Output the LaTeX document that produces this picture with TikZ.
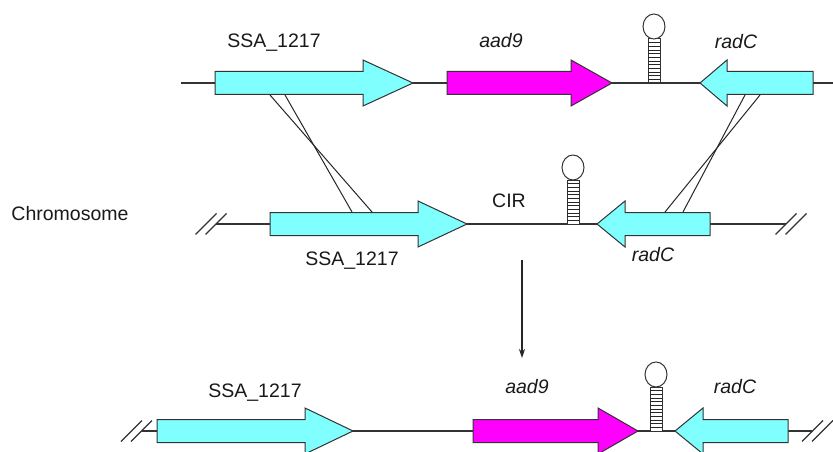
\documentclass[tikz,border=0pt]{standalone}
\usepackage{fontspec}
\setmainfont{Liberation Sans}
\usetikzlibrary{arrows.meta,calc}
\definecolor{GeneC}{RGB}{128,255,255}
\definecolor{AadC}{RGB}{255,0,255}
\tikzset{
  dna/.style={line width=1.1pt,black!80},
  genebody/.style={draw=black!80,line width=1pt,line join=miter},
  lbl/.style={font=\fontsize{19.5}{22}\selectfont,text=black!90,anchor=base,inner sep=0pt},
  gname/.style={lbl,font=\fontsize{19.5}{22}\selectfont\itshape},
  xover/.style={line width=1pt,black!85},
  brkline/.style={line width=1.1pt,black!80},
}
% gene: tail x, head base x, tip x, y, fill
\newcommand{\genearrow}[5]{%
  \draw[genebody,fill=#5] (#1,#4-11.5) -- (#2,#4-11.5) -- (#2,#4-23) -- (#3,#4)
    -- (#2,#4+23) -- (#2,#4+11.5) -- (#1,#4+11.5) -- cycle;}
% terminator hairpin on the line at x, y
\newcommand{\hairpin}[2]{%
  \draw[genebody,fill=white] (#1-6,#2) rectangle (#1+6,#2-44);
  \foreach \k in {1,...,11}{\draw[line width=0.8pt,black!85] (#1-6,#2-\k*3.67) -- (#1+6,#2-\k*3.67);}
  \draw[genebody,fill=white] (#1,#2-56.5) ellipse [x radius=11pt,y radius=12.5pt];}
% break mark //
\newcommand{\breakmark}[2]{%
  \draw[brkline] (#1-15.5,#2+10.5) -- (#1+5.5,#2-10.5);
  \draw[brkline] (#1-5.5,#2+10.5) -- (#1+15.5,#2-10.5);}

\begin{document}
\begin{tikzpicture}[x=1pt,y=-1pt]
\useasboundingbox (0,0) rectangle (833,452);

% donor fragment
\coordinate (t0) at (181,83);
\coordinate (t1) at (833,83);
\draw[dna] (t0) -- (t1);
\genearrow{215}{363}{413}{83}{GeneC}
\genearrow{447}{571}{612}{83}{AadC}
\genearrow{813}{727}{700}{83}{GeneC}
\hairpin{654}{83}
\node[lbl] (tssa) at (274,48) {SSA\_1217};
\node[gname] (taad) at (501,48) {aad9};
\node[gname] (trad) at (736,49) {radC};

% chromosome
\coordinate (c0) at (216,224);
\coordinate (c1) at (786,224);
\draw[dna] (c0) -- (c1);
\breakmark{211}{224}
\breakmark{791}{224}
\genearrow{270}{418}{467}{224}{GeneC}
\genearrow{710}{625}{597}{224}{GeneC}
\hairpin{573}{224}
\node[lbl] (chrom) at (70,220) {Chromosome};
\node[lbl] (cir) at (509,207) {CIR};
\node[lbl] (cssa) at (352,265) {SSA\_1217};
\node[gname] (crad) at (653,261) {radC};

% crossovers
\coordinate (xa1) at (270,95);  \coordinate (xa2) at (372,212);
\coordinate (xb1) at (285,95);  \coordinate (xb2) at (352,212);
\coordinate (xc1) at (745,95);  \coordinate (xc2) at (683,212);
\coordinate (xd1) at (760,95);  \coordinate (xd2) at (665,212);
\draw[xover] (xa1) -- (xa2);
\draw[xover] (xb1) -- (xb2);
\draw[xover] (xc1) -- (xc2);
\draw[xover] (xd1) -- (xd2);

% result
\coordinate (a0) at (522,260);
\coordinate (a1) at (522,358);
\draw[-{Stealth[length=9pt,width=6pt]},line width=1.3pt,black!85] (a0) -- (a1);

\coordinate (r0) at (141.5,431);
\coordinate (r1) at (812,431);
\draw[dna] (r0) -- (r1);
\breakmark{136.5}{431}
\breakmark{817.5}{431}
\genearrow{157}{305}{353}{431}{GeneC}
\genearrow{473}{598}{638}{431}{AadC}
\genearrow{788}{703}{675}{431}{GeneC}
\hairpin{656}{431}
\node[lbl] (rssa) at (255,397) {SSA\_1217};
\node[gname] (raad) at (527,393) {aad9};
\node[gname] (rrad) at (735,393) {radC};
\end{tikzpicture}
\end{document}
